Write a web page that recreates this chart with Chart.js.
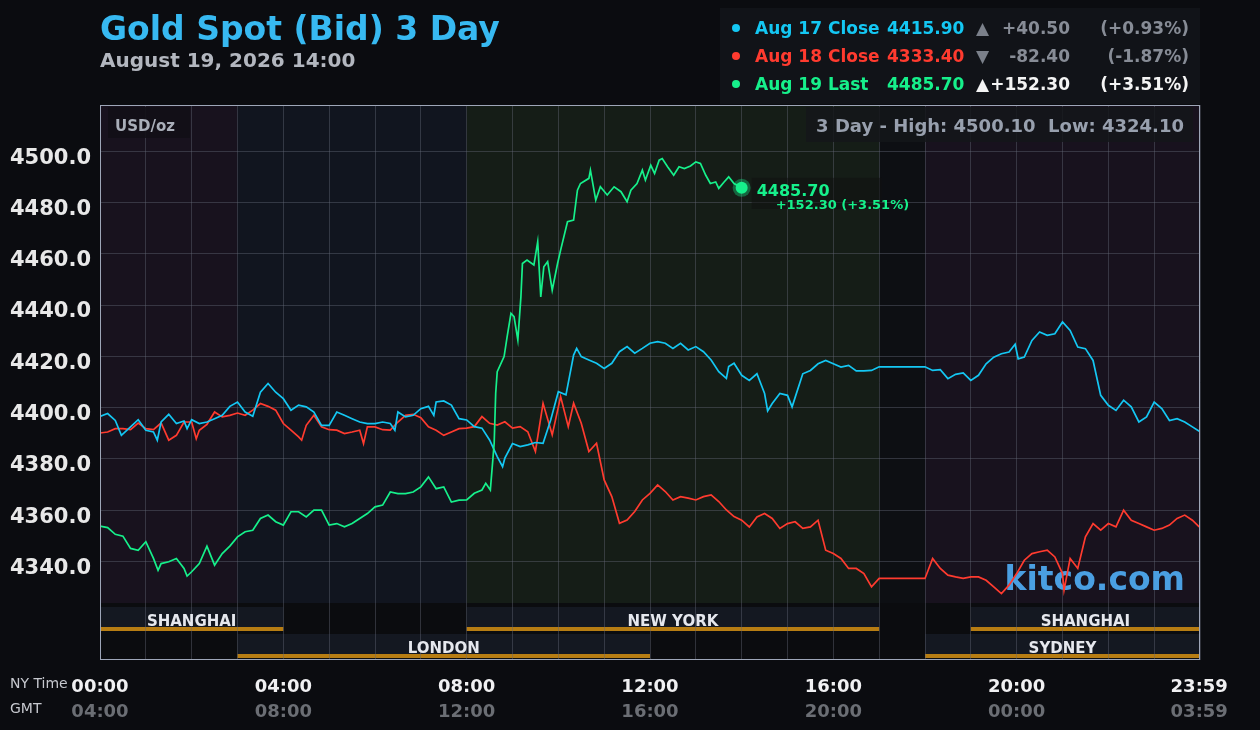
<!DOCTYPE html>
<html>
<head>
<meta charset="utf-8">
<title>Gold Spot (Bid) 3 Day</title>
<script src="https://cdn.jsdelivr.net/npm/chart.js@4.4.1/dist/chart.umd.min.js"></script>
<style>
  html, body { margin: 0; padding: 0; background: #0b0c10; }
  #wrap { position: relative; width: 1260px; height: 730px; }
</style>
</head>
<body>
<div id="wrap"><canvas id="gold" width="1260" height="730"></canvas></div>
<script>
// ── Data: [minute of NY day, price] ─────────────────────────────────────────

const aug17 = [
  [0,4396.6],[10,4397.7],[20,4395.0],[28,4389.2],[40,4392.5],[50,4395.3],[60,4391.2],[70,4390.5],[75,4387.3],[80,4394.4],
  [90,4397.4],[100,4393.8],[110,4394.8],[114,4391.8],[120,4395.3],[130,4393.8],[140,4394.4],[150,4395.7],[160,4397.0],[170,4400.5],
  [180,4402.2],[190,4398.3],[200,4396.6],[210,4406.0],[220,4409.4],[230,4406.0],[240,4403.5],[250,4399.0],[260,4401.0],[270,4400.3],
  [280,4398.3],[290,4393.1],[300,4393.1],[310,4398.3],[320,4397.0],[330,4395.7],[340,4394.4],[350,4393.8],[360,4393.8],[370,4394.4],
  [380,4393.8],[386,4391.2],[390,4398.3],[400,4396.4],[410,4397.0],[420,4399.6],[430,4400.5],[437,4397.0],[440,4402.2],[450,4402.6],
  [460,4401.0],[470,4395.7],[480,4395.2],[490,4392.6],[500,4392.0],[510,4387.4],[520,4380.9],[527,4377.0],[530,4380.3],[540,4386.0],
  [550,4384.8],[560,4385.5],[570,4386.4],[580,4386.1],[590,4395.2],[600,4406.2],[610,4405.0],[620,4420.5],[624,4423.1],[630,4419.9],
  [640,4418.6],[650,4417.3],[660,4415.3],[670,4417.3],[680,4421.8],[690,4423.8],[700,4421.2],[710,4423.1],[720,4425.1],[730,4425.7],
  [740,4425.1],[750,4423.1],[760,4425.1],[770,4422.5],[780,4423.8],[790,4421.8],[800,4418.6],[810,4414.0],[820,4411.4],[823,4416.0],
  [830,4417.3],[840,4412.6],[850,4410.6],[860,4413.2],[870,4405.5],[874,4398.7],[880,4401.6],[890,4405.5],[900,4404.8],[906,4400.3],
  [910,4404.0],[920,4413.2],[930,4414.5],[940,4417.1],[950,4418.4],[960,4417.1],[970,4415.8],[980,4416.5],[990,4414.3],[1000,4414.3],
  [1010,4414.5],[1020,4415.9],[1080,4415.9],[1090,4414.5],[1100,4414.8],[1110,4411.3],[1120,4413.0],[1130,4413.5],[1140,4410.6],[1150,4412.6],
  [1160,4417.1],[1170,4419.7],[1180,4421.0],[1190,4421.7],[1198,4424.7],[1202,4419.0],[1210,4419.7],[1220,4426.2],[1230,4429.5],[1240,4428.2],
  [1250,4428.8],[1260,4433.4],[1270,4430.1],[1280,4423.6],[1290,4423.0],[1300,4418.4],[1310,4404.8],[1320,4400.9],[1330,4398.9],[1340,4402.9],
  [1350,4400.3],[1360,4394.4],[1370,4396.4],[1380,4402.2],[1390,4399.6],[1400,4395.0],[1410,4395.7],[1420,4394.4],[1430,4392.5],[1439,4390.8]
];

const aug18 = [
  [0,4390.1],[10,4390.5],[20,4391.8],[30,4391.8],[40,4391.4],[50,4394.0],[60,4391.8],[70,4391.4],[80,4394.0],[90,4387.3],
  [100,4389.2],[110,4394.4],[120,4394.4],[126,4387.9],[130,4391.2],[140,4393.5],[150,4398.3],[160,4396.4],[170,4397.0],[180,4397.9],
  [190,4397.0],[200,4399.0],[210,4401.6],[220,4400.5],[230,4399.0],[240,4393.8],[250,4391.2],[260,4388.6],[264,4387.3],[270,4393.1],
  [280,4397.0],[290,4392.5],[300,4391.4],[310,4391.2],[320,4389.9],[330,4390.5],[340,4391.2],[345,4386.0],[350,4392.5],[360,4392.5],
  [370,4391.4],[380,4391.2],[390,4394.4],[400,4397.0],[410,4397.4],[420,4396.1],[430,4392.5],[440,4391.2],[450,4389.2],[460,4390.5],
  [470,4391.8],[480,4392.0],[490,4392.6],[500,4396.5],[510,4393.9],[520,4393.2],[530,4394.5],[540,4392.0],[550,4392.6],[560,4390.6],
  [570,4382.9],[580,4401.7],[592,4389.4],[603,4404.3],[613,4392.6],[620,4401.7],[630,4393.9],[640,4382.9],[650,4386.1],[660,4371.8],
  [670,4365.3],[680,4354.9],[690,4356.2],[700,4359.5],[710,4364.0],[720,4366.6],[730,4369.9],[740,4367.3],[750,4364.0],[760,4365.3],
  [770,4364.7],[780,4364.0],[790,4365.3],[800,4366.0],[810,4363.4],[820,4360.1],[830,4357.5],[840,4356.1],[850,4353.5],[860,4357.4],
  [870,4358.7],[880,4356.8],[890,4352.9],[900,4354.8],[910,4355.5],[920,4352.9],[930,4353.5],[940,4356.1],[950,4344.4],[960,4343.1],
  [970,4341.2],[980,4337.3],[990,4337.3],[1000,4335.3],[1010,4330.1],[1020,4333.4],[1080,4333.4],[1090,4341.2],[1100,4337.3],[1110,4334.7],
  [1120,4334.0],[1130,4333.4],[1140,4334.0],[1150,4334.0],[1160,4332.7],[1170,4330.1],[1180,4327.5],[1190,4330.8],[1200,4335.3],[1210,4340.5],
  [1220,4343.1],[1230,4343.8],[1240,4344.4],[1250,4341.8],[1260,4335.3],[1262,4328.8],[1270,4341.2],[1280,4337.3],[1290,4349.6],[1300,4354.8],
  [1310,4352.2],[1320,4354.8],[1330,4353.5],[1340,4360.0],[1350,4356.1],[1360,4354.8],[1370,4353.5],[1380,4352.2],[1390,4352.9],[1400,4354.2],
  [1410,4356.8],[1420,4358.1],[1430,4356.1],[1439,4353.5]
];

const aug19 = [
  [0,4353.8],[10,4353.2],[20,4350.6],[30,4349.9],[40,4345.1],[50,4344.4],[60,4347.7],[70,4341.2],[76,4336.6],[80,4339.2],
  [90,4339.9],[100,4341.2],[110,4337.3],[114,4334.3],[120,4336.0],[130,4339.2],[140,4346.0],[150,4338.6],[160,4343.1],[170,4346.0],
  [180,4349.6],[190,4351.6],[200,4352.2],[210,4356.8],[220,4358.1],[230,4355.5],[240,4354.2],[250,4359.4],[260,4359.4],[270,4357.4],
  [280,4360.0],[290,4360.0],[300,4354.2],[310,4354.8],[320,4353.5],[330,4354.8],[340,4356.8],[350,4358.7],[360,4361.3],[370,4362.0],
  [380,4367.1],[390,4366.5],[400,4366.5],[410,4367.1],[420,4369.1],[430,4373.0],[440,4368.4],[450,4369.1],[460,4363.2],[470,4363.9],
  [480,4364.0],[490,4366.6],[500,4367.9],[505,4370.5],[511,4367.9],[516,4386.1],[518,4405.6],[520,4414.0],[529,4419.9],[533,4427.7],
  [538,4436.8],[542,4435.5],[547,4426.4],[551,4443.2],[553,4456.2],[559,4457.5],[568,4455.6],[573,4464.7],[577,4443.2],[581,4454.9],
  [586,4456.9],[592,4445.8],[599,4456.2],[603,4461.4],[612,4472.5],[620,4473.1],[625,4484.8],[629,4487.4],[640,4489.4],[642,4492.6],
  [649,4480.9],[655,4486.1],[664,4482.9],[673,4486.1],[682,4484.2],[690,4480.3],[695,4484.8],[703,4487.4],[710,4492.6],[714,4488.7],
  [721,4494.5],[726,4491.3],[732,4496.5],[736,4497.1],[743,4493.9],[751,4490.6],[758,4493.9],[765,4493.2],[773,4494.2],[780,4495.8],
  [786,4495.2],[793,4490.6],[799,4487.4],[806,4488.0],[810,4485.5],[817,4488.0],[823,4490.0],[830,4487.4],[840,4485.7]
];

// y ticks and x (time) ticks
const yTicks = [4340, 4360, 4380, 4400, 4420, 4440, 4460, 4480, 4500];
const xTickMinutes = [0, 240, 480, 720, 960, 1200, 1439];
const nyTimeLabels = ['00:00', '04:00', '08:00', '12:00', '16:00', '20:00', '23:59'];
const gmtLabels = ['04:00', '08:00', '12:00', '16:00', '20:00', '00:00', '03:59'];

// background bands (hours) and trading sessions (hours, row)
const bandStart = [0, 3, 8, 17, 18];
const bandEnd = [3, 8, 17, 18, 24];
const sessionNames = ['SHANGHAI', 'NEW YORK', 'SHANGHAI', 'LONDON', 'SYDNEY'];
const sessionStart = [0, 8, 19, 3, 18];
const sessionEnd = [4, 17, 24, 12, 24];
const sessionRow = [0, 0, 0, 1, 1];

// legend
const legendLabels = ['Aug 17 Close', 'Aug 18 Close', 'Aug 19 Last'];
const legendValues = ['4415.90', '4333.40', '4485.70'];
const legendArrows = ['▲', '▼', '▲'];
const legendChanges = ['+40.50', '-82.40', '+152.30'];
const legendPcts = ['(+0.93%)', '(-1.87%)', '(+3.51%)'];
const lastLabel = '4485.70';
const lastChange = '+152.30 (+3.51%)';

// ── Styles ──────────────────────────────────────────────────────────────────

const CYAN = '#14c7f3', RED = '#ff3b2f', GREEN = '#16f08b';
const FONT = "'DejaVu Sans', 'Noto Sans', sans-serif";
const bandColors = ['#18121e', '#11151f', '#151d17', '#0d0f13', '#18121e'];
const STRIP_H = 57;

const toXY = arr => arr.map(p => ({ x: p[0], y: p[1] }));

const backdrop = {
  id: 'backdrop',
  beforeDraw(chart) {
    const { ctx, chartArea: a, scales: { x } } = chart;
    ctx.save();
    ctx.fillStyle = '#0b0c10';
    ctx.fillRect(0, 0, chart.width, chart.height);
    const plotBottom = a.bottom - STRIP_H;
    bandStart.forEach((h, i) => {
      const x0 = x.getPixelForValue(h * 60), x1 = x.getPixelForValue(bandEnd[i] * 60);
      ctx.fillStyle = bandColors[i];
      ctx.fillRect(x0, a.top, x1 - x0, plotBottom - a.top);
    });
    ctx.fillStyle = '#0b0c0f';
    ctx.fillRect(a.left, plotBottom, a.right - a.left, STRIP_H);
    sessionNames.forEach((n, i) => {
      const x0 = x.getPixelForValue(sessionStart[i] * 60), x1 = x.getPixelForValue(sessionEnd[i] * 60);
      const top = plotBottom + 4 + sessionRow[i] * 27;
      ctx.fillStyle = '#141821';
      ctx.fillRect(x0, top, x1 - x0, 24);
      ctx.fillStyle = '#b77d13';
      ctx.fillRect(x0, top + 20, x1 - x0, 4);
    });
    ctx.restore();
  },
  beforeDatasetsDraw(chart) {
    const { ctx, chartArea: a } = chart;
    ctx.save();
    ctx.font = `bold 33px ${FONT}`;
    ctx.fillStyle = '#4a9fe2';
    ctx.textAlign = 'right';
    ctx.fillText('kitco.com', a.right - 15, a.bottom - STRIP_H - 13);
    ctx.restore();
  },
  afterDatasetsDraw(chart) {
    const { ctx, chartArea: a, scales: { x } } = chart;
    const plotBottom = a.bottom - STRIP_H;
    ctx.save();

    // session labels
    ctx.font = `bold 15px ${FONT}`;
    ctx.fillStyle = '#e6e8ee';
    ctx.textAlign = 'center';
    sessionNames.forEach((n, i) => {
      const x0 = x.getPixelForValue(sessionStart[i] * 60), x1 = x.getPixelForValue(sessionEnd[i] * 60);
      const top = plotBottom + 4 + sessionRow[i] * 27;
      ctx.fillText(n, (x0 + x1) / 2, top + 19);
    });

    // last-price dot + label
    const meta = chart.getDatasetMeta(0);
    const pt = meta.data[meta.data.length - 1];
    ctx.fillStyle = 'rgba(16,16,16,0.55)';
    ctx.fillRect(pt.x + 10, pt.y - 10, 130, 31);
    ctx.beginPath(); ctx.arc(pt.x, pt.y, 9, 0, Math.PI * 2);
    ctx.fillStyle = 'rgba(22,240,139,0.35)'; ctx.fill();
    ctx.beginPath(); ctx.arc(pt.x, pt.y, 6, 0, Math.PI * 2);
    ctx.fillStyle = GREEN; ctx.fill();
    ctx.textAlign = 'left';
    ctx.fillStyle = GREEN;
    ctx.font = `bold 16px ${FONT}`;
    ctx.fillText(lastLabel, pt.x + 15, pt.y + 8);
    ctx.font = `bold 13px ${FONT}`;
    ctx.fillText(lastChange, pt.x + 34, pt.y + 21);

    // USD/oz and high/low boxes
    ctx.fillStyle = 'rgba(18,16,22,0.9)';
    ctx.fillRect(a.left + 8, a.top + 2, 82, 31);
    ctx.fillStyle = 'rgba(20,22,26,0.85)';
    ctx.fillRect(a.right - 394, a.top + 2, 387, 35);
    ctx.font = `bold 15px ${FONT}`;
    ctx.fillStyle = '#a9aeb9';
    ctx.fillText('USD/oz', a.left + 15, a.top + 26);
    ctx.font = `bold 18px ${FONT}`;
    ctx.fillStyle = '#98a0ae';
    ctx.textAlign = 'right';
    ctx.fillText('3 Day - High: 4500.10  Low: 4324.10', a.right - 16, a.top + 27);

    // frame
    ctx.strokeStyle = '#9ea6b8';
    ctx.lineWidth = 1;
    ctx.strokeRect(a.left + 0.5, a.top + 0.5, a.right - a.left - 1, a.bottom - a.top - 1);

    // time labels
    ctx.textAlign = 'center';
    ctx.font = `bold 18px ${FONT}`;
    xTickMinutes.forEach((m, i) => {
      const px = x.getPixelForValue(m);
      ctx.fillStyle = '#f0f0f2';
      ctx.fillText(nyTimeLabels[i], px, 692);
      ctx.fillStyle = '#6b6e74';
      ctx.fillText(gmtLabels[i], px, 717);
    });
    ctx.textAlign = 'left';
    ctx.font = `14px ${FONT}`;
    ctx.fillStyle = '#c6c8ce';
    ctx.fillText('NY Time', 10, 688);
    ctx.fillText('GMT', 10, 713);

    // title
    ctx.font = `bold 33px ${FONT}`;
    ctx.fillStyle = '#37b9f1';
    ctx.fillText('Gold Spot (Bid) 3 Day', 100, 40);
    ctx.font = `bold 20px ${FONT}`;
    ctx.fillStyle = '#b3b7bf';
    ctx.fillText('August 19, 2026 14:00', 100, 67);

    // legend box
    ctx.fillStyle = '#111318';
    ctx.fillRect(720, 8, 480, 96);
    const colors = [CYAN, RED, GREEN];
    legendLabels.forEach((lab, i) => {
      const base = 34 + i * 28;
      ctx.beginPath(); ctx.arc(736, base - 6, 4, 0, Math.PI * 2);
      ctx.fillStyle = colors[i]; ctx.fill();
      ctx.font = `bold 17px ${FONT}`;
      ctx.textAlign = 'left';
      ctx.fillText(lab, 755, base);
      ctx.fillText(legendValues[i], 887, base);
      const tc = i === 2 ? '#f4f4f4' : '#878c96';
      ctx.fillStyle = i === 2 ? '#f4f4f4' : '#7b808a';
      ctx.fillText(legendArrows[i], 976, base);
      ctx.fillStyle = tc;
      ctx.textAlign = 'right';
      ctx.fillText(legendChanges[i], 1070, base);
      ctx.fillText(legendPcts[i], 1189, base);
    });
    ctx.restore();
  }
};

const gridColor = 'rgba(100,104,118,0.42)';

new Chart(document.getElementById('gold').getContext('2d'), {
  type: 'line',
  data: {
    datasets: [
      { data: toXY(aug19), borderColor: GREEN, borderWidth: 1.7, pointRadius: 0, tension: 0 },
      { data: toXY(aug17), borderColor: CYAN, borderWidth: 1.7, pointRadius: 0, tension: 0 },
      { data: toXY(aug18), borderColor: RED, borderWidth: 1.7, pointRadius: 0, tension: 0 }
    ]
  },
  options: {
    responsive: false, animation: false, devicePixelRatio: 1,
    layout: { padding: { top: 105, right: 60, left: 0, bottom: 0 } },
    plugins: { legend: { display: false }, tooltip: { enabled: false } },
    scales: {
      x: {
        type: 'linear', min: 0, max: 1440,
        afterBuildTicks: s => { s.ticks = Array.from({ length: 25 }, (_, h) => ({ value: h * 60 })); },
        afterFit: s => { s.height = 70; },
        grid: { color: gridColor, drawTicks: false },
        border: { display: false },
        ticks: { display: false }
      },
      y: {
        min: 4301.6, max: 4518,
        afterBuildTicks: s => { s.ticks = yTicks.map(v => ({ value: v })); },
        afterFit: s => { s.width = 100; },
        grid: { color: gridColor, drawTicks: false },
        border: { display: false },
        ticks: {
          color: '#e8e8e8', padding: 9, labelOffset: 7,
          font: { family: FONT, size: 21, weight: 'bold' },
          callback: v => Number(v).toFixed(1)
        }
      }
    }
  },
  plugins: [backdrop]
});
</script>
</body>
</html>
